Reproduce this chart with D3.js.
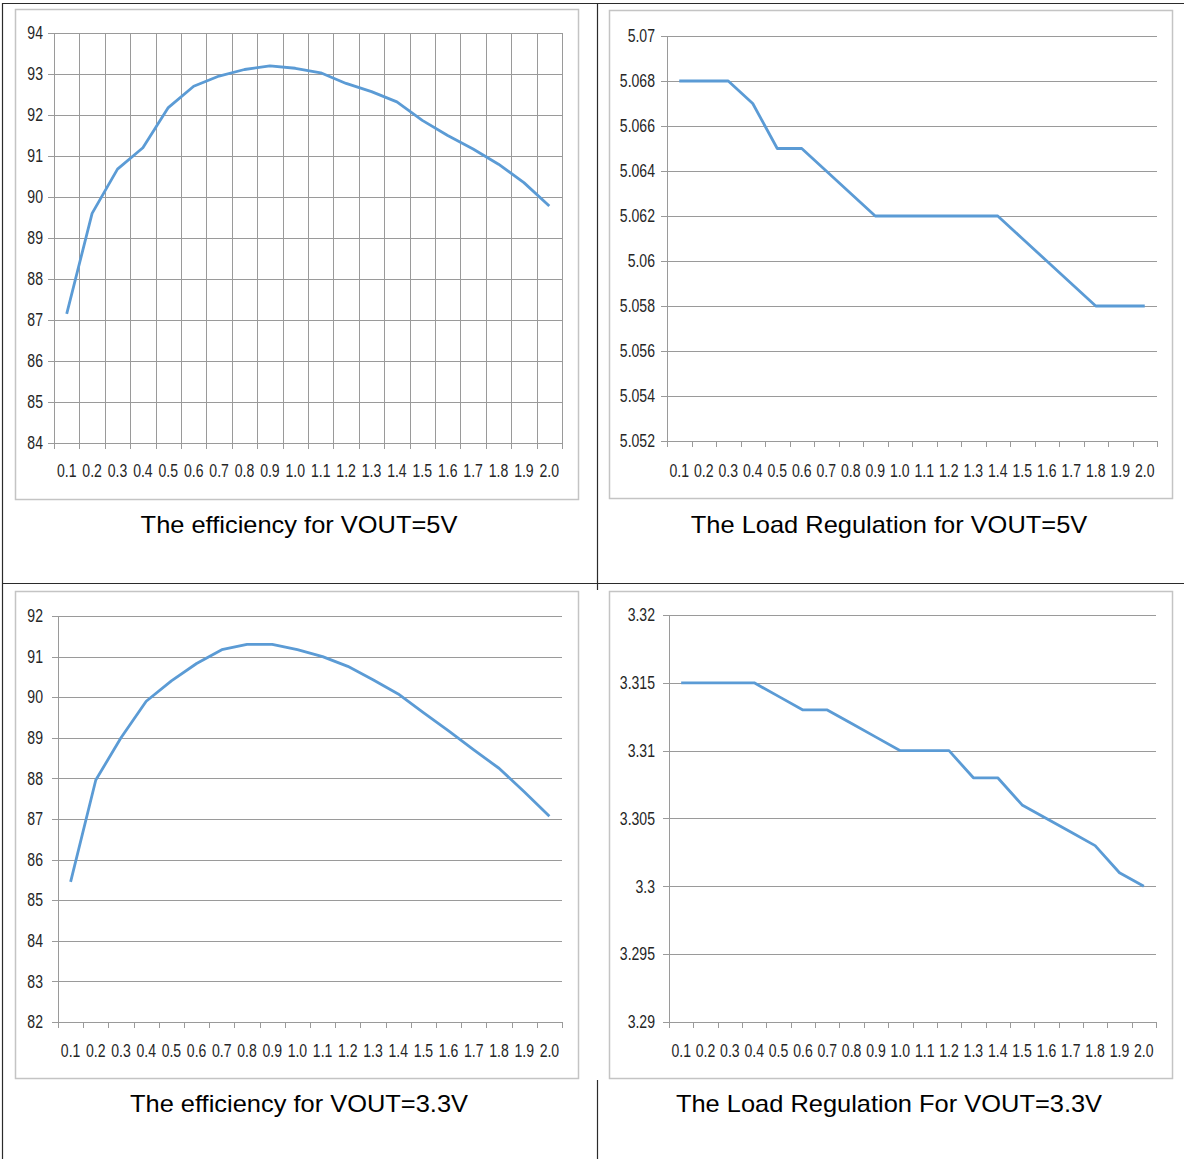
<!DOCTYPE html>
<html>
<head>
<meta charset="utf-8">
<script src="https://cdn.jsdelivr.net/npm/d3@7"></script>
<style>
  html, body { margin: 0; padding: 0; background: #fff; }
  svg { display: block; }
  .tick-label { font-family: "Liberation Sans", Arial, sans-serif; font-size: 19px; fill: #262626; }
  .title { font-family: "Liberation Sans", Arial, sans-serif; font-size: 24px; fill: #000; }
</style>
</head>
<body>
<svg id="chart" width="1184" height="1159"></svg>
<script>
// ---- data ----
const categories = ["0.1","0.2","0.3","0.4","0.5","0.6","0.7","0.8","0.9","1.0",
                    "1.1","1.2","1.3","1.4","1.5","1.6","1.7","1.8","1.9","2.0"];

const efficiency5V = [87.15, 89.6, 90.68, 91.2, 92.18, 92.7, 92.95, 93.11, 93.2, 93.14,
                      93.03, 92.77, 92.57, 92.32, 91.87, 91.5, 91.17, 90.8, 90.35, 89.78];
const regulation5V = [5.068, 5.068, 5.068, 5.067, 5.065, 5.065, 5.064, 5.063, 5.062, 5.062,
                      5.062, 5.062, 5.062, 5.062, 5.061, 5.060, 5.059, 5.058, 5.058, 5.058];
const efficiency33V = [85.45, 87.96, 89.0, 89.9, 90.4, 90.83, 91.17, 91.3, 91.3, 91.17,
                       91.0, 90.76, 90.43, 90.08, 89.62, 89.17, 88.7, 88.25, 87.67, 87.07];
const regulation33V = [3.315, 3.315, 3.315, 3.315, 3.314, 3.313, 3.313, 3.312, 3.311, 3.310,
                       3.310, 3.310, 3.308, 3.308, 3.306, 3.305, 3.304, 3.303, 3.301, 3.300];

const eff5Ticks  = ["84","85","86","87","88","89","90","91","92","93","94"];
const reg5Ticks  = ["5.052","5.054","5.056","5.058","5.06","5.062","5.064","5.066","5.068","5.07"];
const eff33Ticks = ["82","83","84","85","86","87","88","89","90","91","92"];
const reg33Ticks = ["3.29","3.295","3.3","3.305","3.31","3.315","3.32"];

const titles = ["The efficiency for VOUT=5V", "The Load Regulation for VOUT=5V",
                "The efficiency for VOUT=3.3V", "The Load Regulation For VOUT=3.3V"];

// ---- drawing ----
const svg = d3.select("#chart");
const LINE_COLOR = "#5b9bd5";
const GRID = "#9a9a9a";
const LABEL_SX = 0.74;   // condensed look of the tick labels
const TITLE_SX = 1.06;

// table borders
const border = svg.append("g").attr("stroke", "#2b2b2b").attr("stroke-width", 1.2);
border.append("line").attr("x1", 2).attr("x2", 1184).attr("y1", 3.5).attr("y2", 3.5);
border.append("line").attr("x1", 2).attr("x2", 1184).attr("y1", 583.5).attr("y2", 583.5);
border.append("line").attr("x1", 2.5).attr("x2", 2.5).attr("y1", 3).attr("y2", 1159);
border.append("line").attr("x1", 597.5).attr("x2", 597.5).attr("y1", 3).attr("y2", 590);
border.append("line").attr("x1", 597.5).attr("x2", 597.5).attr("y1", 1080).attr("y2", 1159);

function drawChart(cfg) {
  const g = svg.append("g");
  // chart frame
  g.append("rect")
    .attr("x", cfg.box[0] + 0.5).attr("y", cfg.box[1] + 0.5)
    .attr("width", cfg.box[2] - cfg.box[0]).attr("height", cfg.box[3] - cfg.box[1])
    .attr("fill", "#fff").attr("stroke", "#c4c4c4").attr("stroke-width", 1.5);

  const [L, T, R, B] = cfg.plot;
  const tickVals = cfg.ticks.map(Number);
  const x = d3.scaleBand().domain(categories).range([L, R]).paddingInner(0).paddingOuter(0);
  const y = d3.scaleLinear().domain(d3.extent(tickVals)).range([B, T]);

  // horizontal gridlines + y tick marks
  g.append("g").selectAll("line").data(tickVals).join("line")
    .attr("x1", L - 6).attr("x2", R)
    .attr("y1", d => Math.round(y(d)) + 0.5).attr("y2", d => Math.round(y(d)) + 0.5)
    .attr("stroke", GRID).attr("stroke-width", 1);

  // y axis line
  g.append("line").attr("x1", L + 0.5).attr("x2", L + 0.5).attr("y1", T).attr("y2", B)
    .attr("stroke", GRID);

  // vertical boundaries (gridlines or ticks)
  const bounds = categories.map(c => x(c)).concat([R]);
  g.append("g").selectAll("line").data(bounds).join("line")
    .attr("x1", d => Math.round(d) + 0.5).attr("x2", d => Math.round(d) + 0.5)
    .attr("y1", cfg.vgrid ? T : B).attr("y2", B + 6)
    .attr("stroke", GRID).attr("stroke-width", 1);

  // y labels
  g.append("g").selectAll("text").data(cfg.ticks).join("text")
    .attr("class", "tick-label")
    .attr("transform", d => `translate(${cfg.ylabelX},${y(+d)}) scale(${LABEL_SX},1)`)
    .attr("text-anchor", "end").attr("dominant-baseline", "central")
    .text(d => d);

  // x labels
  g.append("g").selectAll("text").data(categories).join("text")
    .attr("class", "tick-label")
    .attr("transform", d => `translate(${x(d) + x.bandwidth() / 2},${B + cfg.xlabelOff}) scale(${LABEL_SX},1)`)
    .attr("text-anchor", "middle").attr("dominant-baseline", "central")
    .text(d => d);

  // series line
  const line = d3.line()
    .x((d, i) => x(categories[i]) + x.bandwidth() / 2)
    .y(d => y(d));
  g.append("path").datum(cfg.values)
    .attr("d", line)
    .attr("fill", "none").attr("stroke", LINE_COLOR)
    .attr("stroke-width", 2.8).attr("stroke-linejoin", "round");

  // title
  g.append("text").attr("class", "title")
    .attr("transform", `translate(${cfg.titlePos[0]},${cfg.titlePos[1]}) scale(${TITLE_SX},1)`)
    .attr("text-anchor", "middle").attr("dominant-baseline", "central")
    .text(cfg.title);
}

drawChart({ box: [15, 9, 578, 499], plot: [54, 33, 562, 443], ticks: eff5Ticks,
            values: efficiency5V, vgrid: true, ylabelX: 43, xlabelOff: 28,
            title: titles[0], titlePos: [299, 525] });
drawChart({ box: [609, 10, 1172, 498], plot: [667, 36, 1157, 441], ticks: reg5Ticks,
            values: regulation5V, vgrid: false, ylabelX: 655, xlabelOff: 30,
            title: titles[1], titlePos: [889, 525] });
drawChart({ box: [15, 591, 578, 1078], plot: [58, 616, 562, 1022], ticks: eff33Ticks,
            values: efficiency33V, vgrid: false, ylabelX: 43, xlabelOff: 29,
            title: titles[2], titlePos: [299, 1104] });
drawChart({ box: [609, 591, 1172, 1078], plot: [669, 615, 1156, 1022], ticks: reg33Ticks,
            values: regulation33V, vgrid: false, ylabelX: 655, xlabelOff: 29,
            title: titles[3], titlePos: [889, 1104] });
</script>
</body>
</html>
